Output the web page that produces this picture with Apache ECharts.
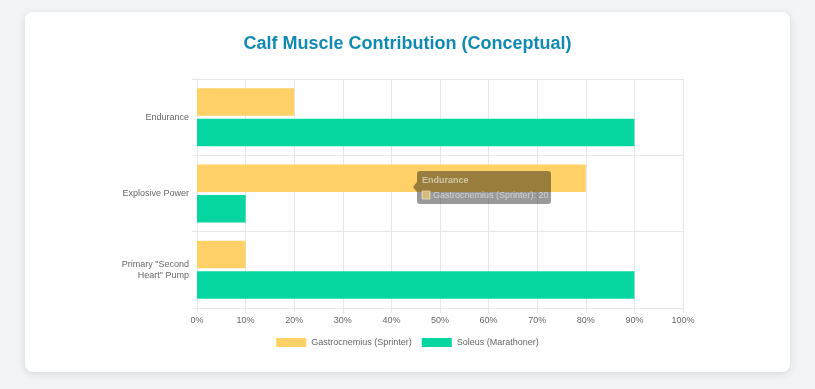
<!DOCTYPE html>
<html>
<head>
<meta charset="utf-8">
<script src="https://cdn.jsdelivr.net/npm/echarts@6/dist/echarts.min.js"></script>
<style>
html,body{margin:0;padding:0;background:#f3f4f6;width:815px;height:389px;overflow:hidden;}
#card{position:absolute;left:25px;top:12px;width:765px;height:360px;background:#fff;border-radius:8px;box-shadow:0 2px 8px rgba(0,0,0,0.12);}
#chart{position:absolute;left:0;top:0;width:815px;height:389px;}
</style>
</head>
<body>
<div id="card"></div>
<div id="chart"></div>
<script>
const titleText = 'Calf Muscle Contribution (Conceptual)';
const categories = ['Endurance', 'Explosive Power', 'Primary "Second Heart" Pump'];
const seriesNames = ['Gastrocnemius (Sprinter)', 'Soleus (Marathoner)'];
const gastrocnemius = [20, 80, 10];
const soleus = [90, 10, 90];
const xTicks = [0, 10, 20, 30, 40, 50, 60, 70, 80, 90, 100];

const chart = echarts.init(document.getElementById('chart'), null, {renderer: 'canvas'});
const font = 'Liberation Sans, Arial, Helvetica, sans-serif';
const gridColor = '#e6e6e6';
chart.setOption({
  animation: false,
  textStyle: {fontFamily: font},
  title: {
    text: titleText, left: 'center', top: 30,
    textStyle: {fontSize: 18, fontWeight: 'bold', color: '#118AB2', fontFamily: font}
  },
  legend: {
    top: 333, left: 'center', itemWidth: 30, itemHeight: 9, itemGap: 10,
    icon: 'rect',
    textStyle: {fontSize: 9, color: '#666'},
    data: seriesNames
  },
  grid: {left: 197, right: 132, top: 79, bottom: 81, containLabel: false},
  xAxis: {
    type: 'value', min: xTicks[0], max: xTicks[xTicks.length - 1], interval: 10,
    axisLabel: {formatter: '{value}%', fontSize: 9, color: '#666', margin: 8},
    axisLine: {show: true, lineStyle: {color: gridColor}},
    axisTick: {show: true, length: 5, lineStyle: {color: gridColor}},
    splitLine: {show: true, lineStyle: {color: gridColor}}
  },
  yAxis: {
    type: 'category', inverse: true, data: categories,
    axisLabel: {
      fontSize: 9, color: '#666', margin: 8, align: 'right', lineHeight: 11,
      formatter: v => v === 'Primary "Second Heart" Pump' ? 'Primary "Second\nHeart" Pump' : v
    },
    axisLine: {show: true, lineStyle: {color: gridColor}},
    axisTick: {show: true, length: 5, lineStyle: {color: gridColor}},
    splitLine: {show: true, lineStyle: {color: gridColor}}
  },
  series: [
    {name: seriesNames[0], type: 'bar', data: gastrocnemius, barWidth: '36%', barGap: '11%',
     itemStyle: {color: '#FFD166'}},
    {name: seriesNames[1], type: 'bar', data: soleus, barWidth: '36%', barGap: '11%',
     itemStyle: {color: '#06D6A0'}}
  ],
  graphic: [{
    type: 'group', left: 413, top: 171, silent: true, z: 1000,
    children: [
      {type: 'polygon', z: 1000, shape: {points: [[4, 11], [0, 16], [4, 21]]}, style: {fill: 'rgba(0,0,0,0.4)'}},
      {type: 'rect', z: 1000, shape: {x: 4, y: 0, width: 134, height: 33, r: 3}, style: {fill: 'rgba(0,0,0,0.4)'}},
      {type: 'text', z: 1001, x: 9, y: 5, style: {text: 'Endurance', fontSize: 9, fontWeight: 'bold', fill: 'rgba(255,255,255,0.55)', fontFamily: font}},
      {type: 'rect', z: 1001, shape: {x: 9, y: 20, width: 8, height: 8}, style: {fill: 'rgba(255,209,102,0.6)', stroke: 'rgba(255,255,255,0.5)', lineWidth: 1}},
      {type: 'text', z: 1001, x: 20, y: 20, style: {text: 'Gastrocnemius (Sprinter): 20', fontSize: 9, fill: 'rgba(255,255,255,0.55)', fontFamily: font}}
    ]
  }]
});
</script>
</body>
</html>
